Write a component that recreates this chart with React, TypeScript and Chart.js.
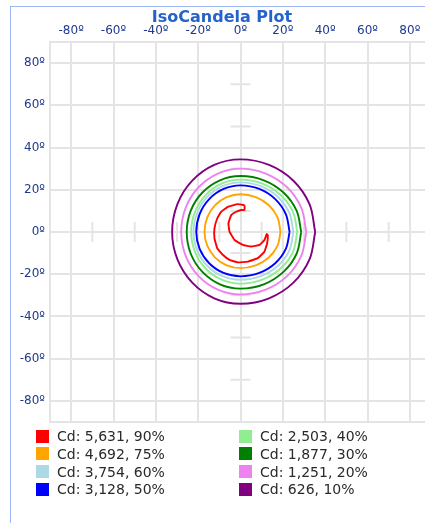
import React, { useEffect, useRef } from "react";
import { Chart, registerables } from "chart.js";

Chart.register(...registerables);

type P = [number, number];

// axis ticks (degrees); the ±90 entries are the plot frame (no label)
const tickValues = [-90, -80, -60, -40, -20, 0, 20, 40, 60, 80, 90];
const crossTickPositions = [-70, -50, -30, -10, 10, 30, 50, 70];
const crossTickHalfLength = 4.7;

const titleText = "IsoCandela Plot";

const seriesLabels = [
  "Cd: 5,631, 90%",
  "Cd: 4,692, 75%",
  "Cd: 3,754, 60%",
  "Cd: 3,128, 50%",
  "Cd: 2,503, 40%",
  "Cd: 1,877, 30%",
  "Cd: 1,251, 20%",
  "Cd: 626, 10%",
];
const seriesColors = [
  "#ff0000",
  "#ffa500",
  "#add8e6",
  "#0000ff",
  "#90ee90",
  "#008000",
  "#ee82ee",
  "#800080",
];

const contourRed: P[] = [
  [1.9, 12.7], [-1.3, 13.2], [-6.0, 11.9], [-9.1, 9.6], [-11.0, 6.4], [-12.3, 1.7],
  [-12.3, -3.0], [-11.0, -7.7], [-8.4, -10.8], [-5.2, -13.2], [-1.3, -14.4], [3.5, -14.0],
  [8.2, -12.4], [11.3, -9.3], [12.6, -5.3], [12.9, -1.4], [12.4, -1.0], [11.3, -3.8],
  [9.0, -6.1], [5.0, -6.9], [1.1, -6.1], [-2.8, -3.8], [-5.2, 0.2], [-5.7, 4.1],
  [-4.4, 8.0], [-2.0, 9.6], [0.3, 10.4], [1.9, 10.4], [1.9, 12.7],
];
const contourOrange: P[] = [
  [18.9, 0], [17.5, 6.9], [13.4, 12.7], [7.2, 16.5], [0, 17.9], [-6.5, 16.5], [-12.0, 12.7],
  [-15.7, 6.9], [-17.0, 0], [-15.7, -6.5], [-12.0, -12.1], [-6.5, -15.8], [0, -17.1],
  [7.2, -15.8], [13.4, -12.1], [17.5, -6.5], [18.9, 0],
];
const contourLightBlue: P[] = [
  [25.0, 0], [23.1, 9.0], [17.7, 16.6], [9.6, 21.7], [0, 23.5], [-8.5, 21.7], [-15.7, 16.6],
  [-20.5, 9.0], [-22.2, 0], [-20.5, -8.7], [-15.7, -16.0], [-8.5, -20.9], [0, -22.6],
  [9.6, -20.9], [17.7, -16.0], [23.1, -8.7], [25.0, 0],
];
const contourBlue: P[] = [
  [23.2, 0], [21.4, 8.5], [16.4, 15.6], [8.9, 20.4], [0, 22.1], [-8.0, 20.4], [-14.8, 15.6],
  [-19.3, 8.5], [-20.9, 0], [-19.3, -8.0], [-14.8, -14.8], [-8.0, -19.4], [0, -21.0],
  [8.9, -19.4], [16.4, -14.8], [21.4, -8.0], [23.2, 0],
];
const contourLightGreen: P[] = [
  [26.8, 0], [24.8, 9.5], [18.9, 17.5], [10.3, 22.9], [0, 24.8], [-8.9, 22.9], [-16.5, 17.5],
  [-21.5, 9.5], [-23.3, 0], [-21.5, -9.4], [-16.5, -17.3], [-8.9, -22.6], [0, -24.5],
  [10.3, -22.6], [18.9, -17.3], [24.8, -9.4], [26.8, 0],
];
const contourGreen: P[] = [
  [28.7, 0], [26.5, 10.1], [20.3, 18.7], [11.0, 24.5], [0, 26.5], [-9.7, 24.5], [-18.0, 18.7],
  [-23.5, 10.1], [-25.4, 0], [-23.5, -10.3], [-18.0, -18.9], [-9.7, -24.8], [0, -26.8],
  [11.0, -24.8], [20.3, -18.9], [26.5, -10.3], [28.7, 0],
];
const contourViolet: P[] = [
  [31.1, 0], [28.7, 11.5], [22.0, 21.2], [11.9, 27.7], [0, 30.0], [-10.7, 27.7], [-19.8, 21.2],
  [-25.9, 11.5], [-28.0, 0], [-25.9, -11.3], [-19.8, -20.9], [-10.7, -27.3], [0, -29.6],
  [11.9, -27.3], [22.0, -20.9], [28.7, -11.3], [31.1, 0],
];
const contourPurple: P[] = [
  [35.3, 0], [32.6, 13.2], [25.0, 24.3], [13.5, 31.8], [0, 34.4], [-12.4, 31.8], [-22.8, 24.3],
  [-29.8, 13.2], [-32.3, 0], [-29.8, -13.0], [-22.8, -24.0], [-12.4, -31.4], [0, -34.0],
  [13.5, -31.4], [25.0, -24.0], [32.6, -13.0], [35.3, 0],
];

const contours = [
  contourRed,
  contourOrange,
  contourLightBlue,
  contourBlue,
  contourLightGreen,
  contourGreen,
  contourViolet,
  contourPurple,
];

const GRID = "#e4e4e4";
const TICK_COLOR = "#1e3a8f";

export default function App() {
  const canvasRef = useRef<HTMLCanvasElement | null>(null);

  useEffect(() => {
    const canvas = canvasRef.current;
    if (!canvas) return;

    const crossData: { x: number; y: number }[] = [];
    crossTickPositions.forEach((p) => {
      crossData.push({ x: p, y: -crossTickHalfLength }, { x: p, y: crossTickHalfLength }, { x: NaN, y: NaN });
      crossData.push({ x: -crossTickHalfLength, y: p }, { x: crossTickHalfLength, y: p }, { x: NaN, y: NaN });
    });

    const datasets: any[] = contours.map((c, i) => ({
      label: seriesLabels[i],
      data: c.map(([x, y]) => ({ x, y })),
      showLine: true,
      borderColor: seriesColors[i],
      backgroundColor: seriesColors[i],
      borderWidth: 1.9,
      pointRadius: 0,
      tension: i === 0 ? 0.1 : 0.35,
      fill: false,
      order: 1,
    }));
    datasets.push({
      label: "cross",
      data: crossData,
      showLine: true,
      spanGaps: false,
      borderColor: GRID,
      borderWidth: 2,
      pointRadius: 0,
      fill: false,
      order: 10,
    });

    const tickFont = { family: "DejaVu Sans", size: 12 };
    const fmt = (v: any) => (Math.abs(Number(v)) === 90 ? "" : `${v}º`);

    const chart = new Chart(canvas, {
      type: "scatter",
      data: { datasets },
      options: {
        animation: false,
        responsive: false,
        devicePixelRatio: 1,
        layout: { padding: { left: 0, top: 0, right: 10, bottom: 101 } },
        plugins: {
          legend: { display: false },
          title: { display: false },
          tooltip: { enabled: false },
        },
        scales: {
          x: {
            type: "linear",
            position: "top",
            min: -90,
            max: 90,
            afterBuildTicks: (s: any) => {
              s.ticks = tickValues.map((v) => ({ value: v }));
            },
            afterFit: (s: any) => {
              s.height = 42;
            },
            grid: { color: GRID, lineWidth: 2, drawTicks: false },
            border: { display: true, color: GRID, width: 2 },
            ticks: {
              callback: fmt,
              color: TICK_COLOR,
              font: tickFont,
              padding: 4,
              maxRotation: 0,
              autoSkip: false,
            },
          },
          y: {
            type: "linear",
            position: "left",
            min: -90,
            max: 90,
            afterBuildTicks: (s: any) => {
              s.ticks = tickValues.map((v) => ({ value: v }));
            },
            afterFit: (s: any) => {
              s.width = 50;
            },
            grid: { color: GRID, lineWidth: 2, drawTicks: false },
            border: { display: true, color: GRID, width: 2 },
            ticks: {
              callback: fmt,
              color: TICK_COLOR,
              font: tickFont,
              padding: 5,
              autoSkip: false,
            },
          },
        },
      } as any,
    });

    return () => chart.destroy();
  }, []);

  const legendItems = seriesLabels.map((label, i) => ({ label, color: seriesColors[i] }));

  return (
    <div
      style={{
        position: "fixed",
        left: 0,
        top: 0,
        width: 425,
        height: 523,
        overflow: "hidden",
        background: "#ffffff",
      }}
    >
      <div
        style={{
          position: "absolute",
          left: 10,
          top: 6,
          width: 430,
          height: 530,
          borderLeft: "1px solid #9bb6f4",
          borderTop: "1px solid #9bb6f4",
        }}
      />
      <canvas
        ref={canvasRef}
        width={441}
        height={523}
        style={{ position: "absolute", left: 0, top: 0, width: 441, height: 523 }}
      />
      <div
        style={{
          position: "absolute",
          left: 0,
          top: 7,
          width: 444,
          textAlign: "center",
          fontFamily: "DejaVu Sans",
          fontWeight: "bold",
          fontSize: 16,
          lineHeight: "20px",
          color: "#2463c9",
        }}
      >
        {titleText}
      </div>
      {legendItems.map((item, i) => {
        const col = Math.floor(i / 4);
        const row = i % 4;
        return (
          <div
            key={item.label}
            style={{
              position: "absolute",
              left: col === 0 ? 36 : 239,
              top: 427 + row * 17.8,
              height: 18,
              display: "flex",
              alignItems: "center",
              fontFamily: "DejaVu Sans",
              fontSize: 14,
              color: "#2a2a2a",
              whiteSpace: "nowrap",
            }}
          >
            <span
              style={{
                display: "inline-block",
                width: 13,
                height: 13,
                background: item.color,
                marginRight: 8,
              }}
            />
            <span>{item.label}</span>
          </div>
        );
      })}
    </div>
  );
}
